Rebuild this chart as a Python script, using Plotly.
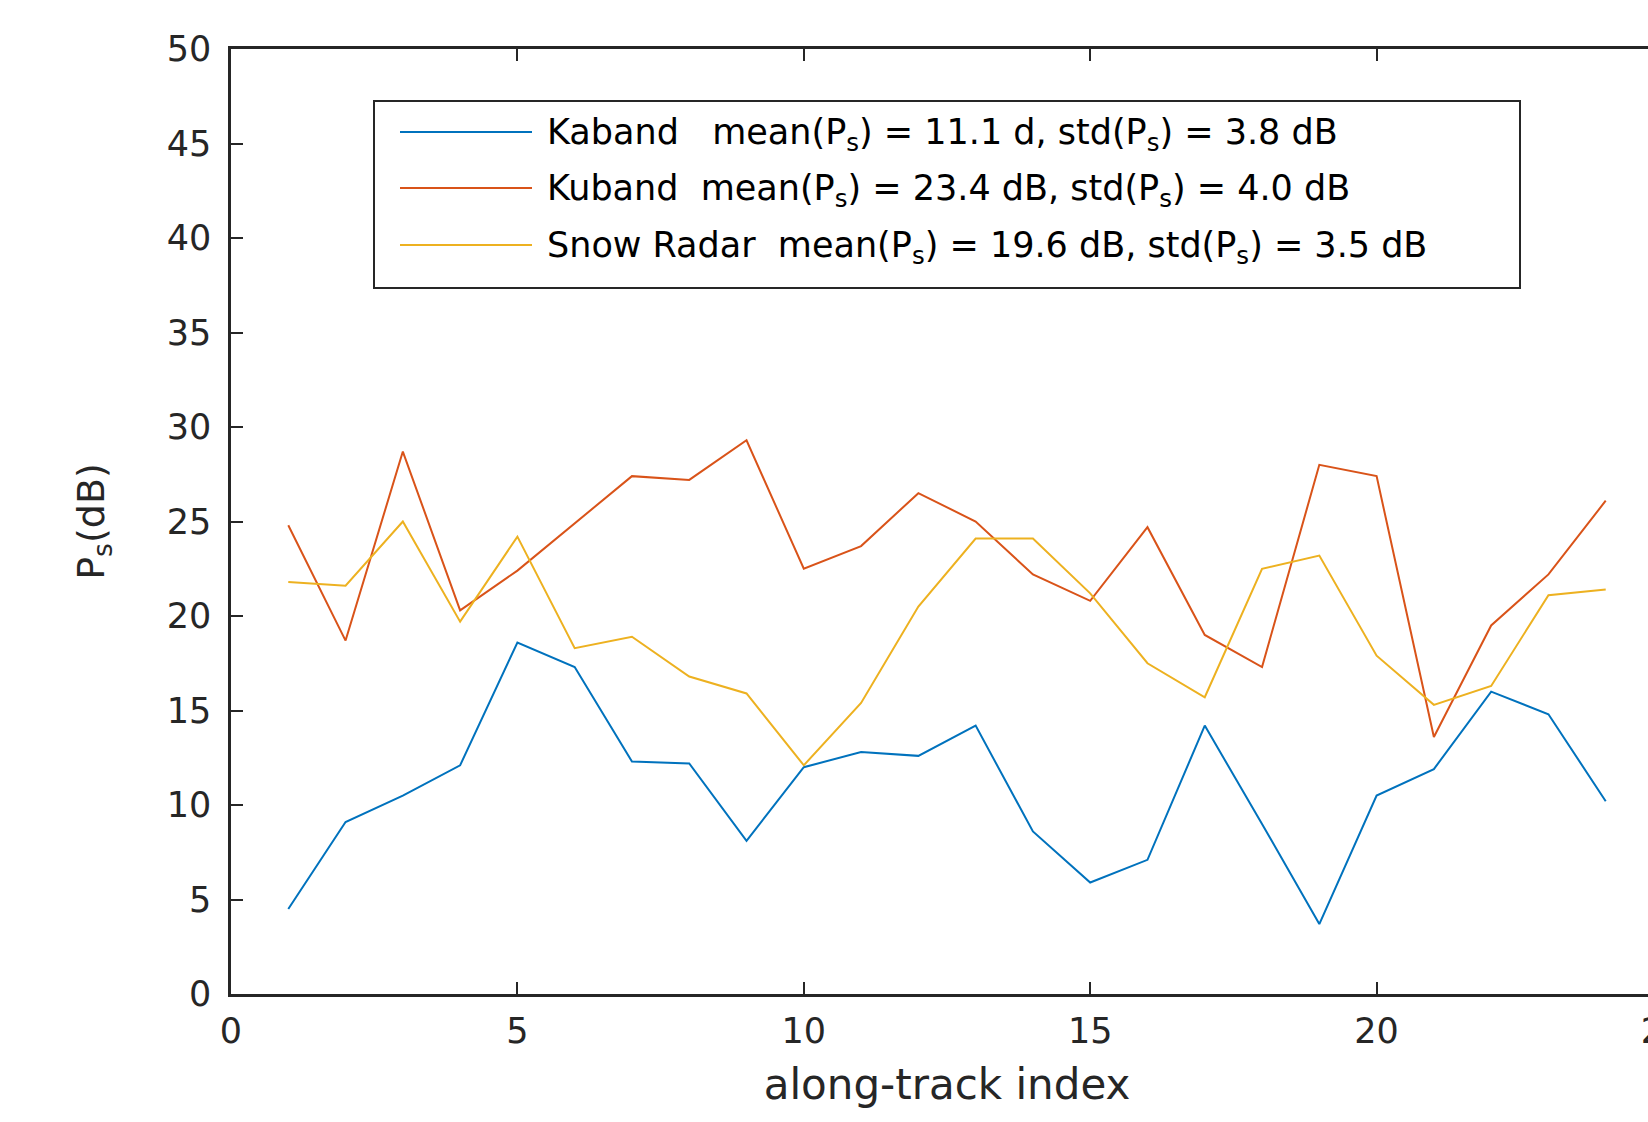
import plotly.graph_objects as go

# along-track sample index
index = list(range(1, 25))

# surface power P_s (dB) for each radar
kaband = [4.5, 9.1, 10.5, 12.1, 18.6, 17.3, 12.3, 12.2, 8.1, 12.0, 12.8, 12.6,
          14.2, 8.6, 5.9, 7.1, 14.2, 9.0, 3.7, 10.5, 11.9, 16.0, 14.8, 10.2]
kuband = [24.8, 18.7, 28.7, 20.3, 22.4, 24.9, 27.4, 27.2, 29.3, 22.5, 23.7, 26.5,
          25.0, 22.2, 20.8, 24.7, 19.0, 17.3, 28.0, 27.4, 13.6, 19.5, 22.2, 26.1]
snow_radar = [21.8, 21.6, 25.0, 19.7, 24.2, 18.3, 18.9, 16.8, 15.9, 12.1, 15.4, 20.5,
              24.1, 24.1, 21.2, 17.5, 15.7, 22.5, 23.2, 17.9, 15.3, 16.3, 21.1, 21.4]

series_names = ["Kaband", "Kuband", "Snow Radar"]
series_values = [kaband, kuband, snow_radar]
series_colors = ["#0072BD", "#D95319", "#EDB120"]
legend_texts = [
    "Kaband\u00a0\u00a0\u00a0mean(P<sub>s</sub>) = 11.1 d, std(P<sub>s</sub>) = 3.8 dB",
    "Kuband\u00a0\u00a0mean(P<sub>s</sub>) = 23.4 dB, std(P<sub>s</sub>) = 4.0 dB",
    "Snow Radar\u00a0\u00a0mean(P<sub>s</sub>) = 19.6 dB, std(P<sub>s</sub>) = 3.5 dB",
]

x_ticks = [0, 5, 10, 15, 20, 25]
y_ticks = [0, 5, 10, 15, 20, 25, 30, 35, 40, 45, 50]

# canvas geometry (pixels); the axes box runs past the right edge of the page
W, H = 1760, 1122
ML, MR, MT, MB = 231, 97, 49, 128
PW, PH = W - ML - MR, H - MT - MB
AXIS_COLOR = "#262626"
FONT = "DejaVu Sans"


def px_x(px):
    return (px - ML) / PW


def px_y(py):
    return (H - MB - py) / PH


fig = go.Figure()
for name, vals, col in zip(series_names, series_values, series_colors):
    fig.add_trace(go.Scatter(x=index, y=vals, mode="lines", name=name,
                             line=dict(color=col, width=2), showlegend=False))

# legend box drawn by hand so the sample lines are long
box_l, box_r, box_t, box_b = 374, 1520, 101, 288
fig.add_shape(type="rect", xref="paper", yref="paper",
              x0=px_x(box_l), x1=px_x(box_r), y0=px_y(box_b), y1=px_y(box_t),
              line=dict(color=AXIS_COLOR, width=2), fillcolor="white", layer="above")
row_y = [132, 188, 245]
for ry, col, txt in zip(row_y, series_colors, legend_texts):
    fig.add_shape(type="line", xref="paper", yref="paper",
                  x0=px_x(400), x1=px_x(532), y0=px_y(ry), y1=px_y(ry),
                  line=dict(color=col, width=2), layer="above")
    fig.add_annotation(xref="paper", yref="paper", x=px_x(545), y=px_y(ry + 2),
                       xanchor="left", yanchor="middle", showarrow=False, text=txt,
                       font=dict(family=FONT, size=35, color="#000000"))

axis_common = dict(
    showline=True, linecolor=AXIS_COLOR, linewidth=2.5,
    ticks="inside", ticklen=12, tickwidth=2, tickcolor=AXIS_COLOR,
    mirror="ticks", showgrid=False, zeroline=False,
    tickfont=dict(family=FONT, size=35, color=AXIS_COLOR),
)

fig.update_xaxes(range=[0, 25], tickvals=x_ticks, ticklabelstandoff=4,
                 title=dict(text="along-track index", standoff=20,
                            font=dict(family=FONT, size=42, color=AXIS_COLOR)),
                 **axis_common)
fig.update_yaxes(range=[0, 50], tickvals=y_ticks, ticklabelstandoff=10,
                 title=dict(text="P<sub>s</sub>(dB)", standoff=51,
                            font=dict(family=FONT, size=38, color=AXIS_COLOR)),
                 **axis_common)

fig.update_layout(width=W, height=H, margin=dict(l=ML, r=MR, t=MT, b=MB),
                  plot_bgcolor="white", paper_bgcolor="white")

fig.write_html("out.html",
               post_script="document.documentElement.style.overflow='hidden';"
                           "document.body.style.overflow='hidden';")
